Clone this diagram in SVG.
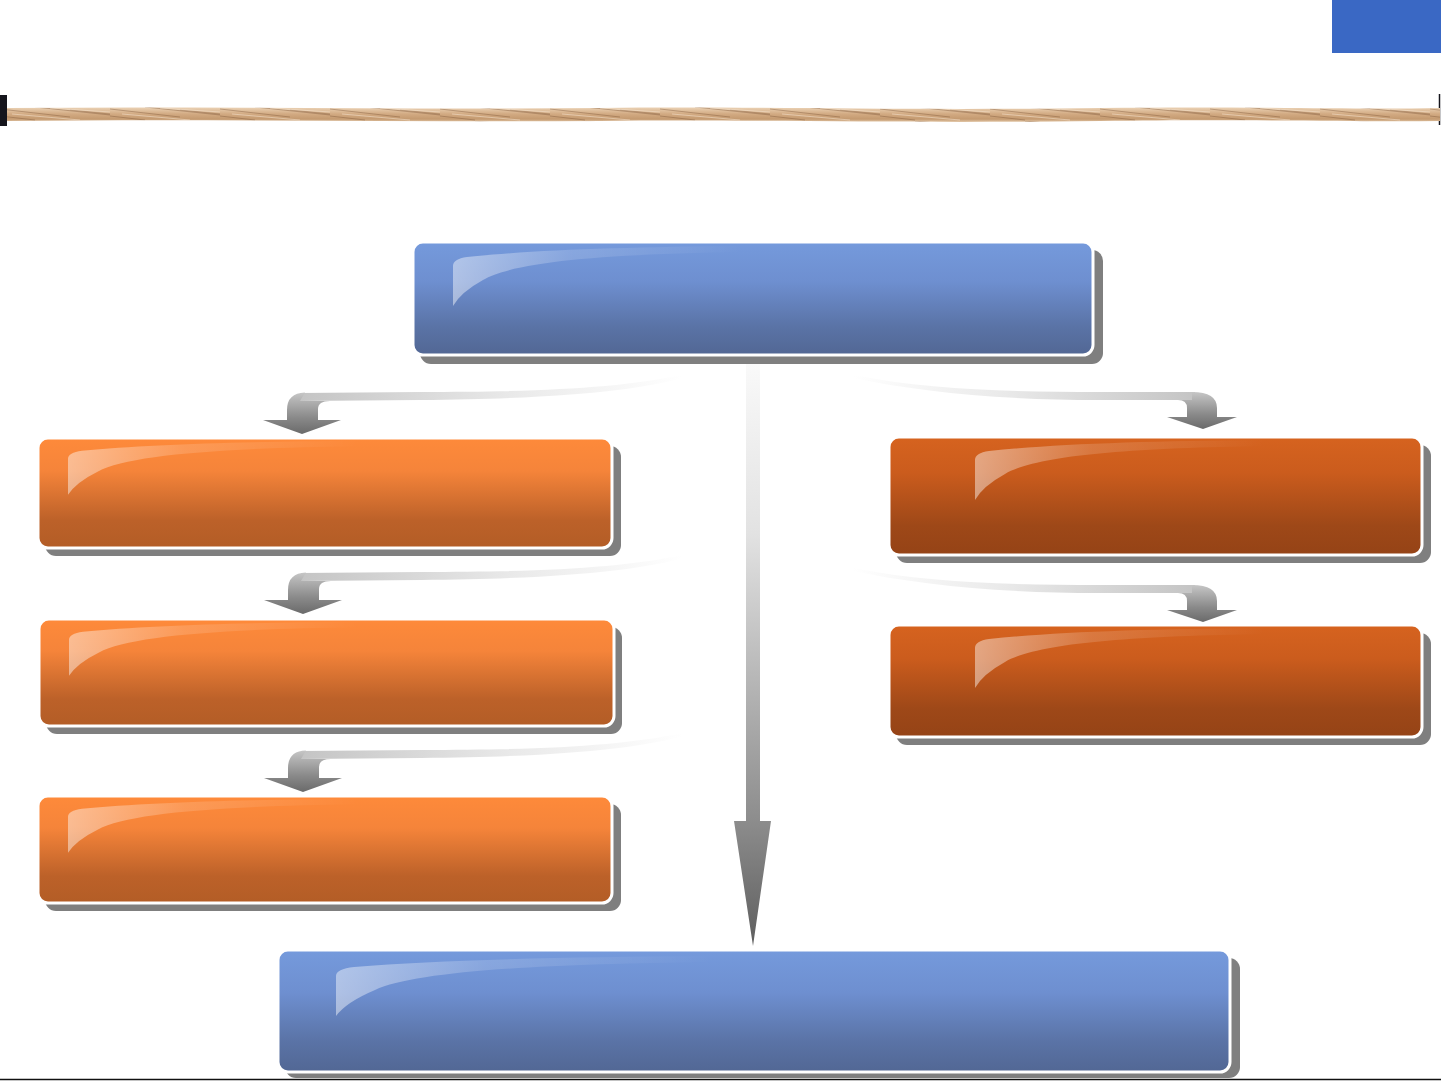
<svg xmlns="http://www.w3.org/2000/svg" width="1441" height="1081" viewBox="0 0 1441 1081">
<defs>
<linearGradient id="gBlue" x1="0" y1="0" x2="0" y2="1">
<stop offset="0" stop-color="#759ADC"/><stop offset="0.35" stop-color="#6E8FD0"/><stop offset="0.75" stop-color="#5A73A6"/><stop offset="1" stop-color="#526794"/>
</linearGradient>
<linearGradient id="gOrange" x1="0" y1="0" x2="0" y2="1">
<stop offset="0" stop-color="#FE8A3A"/><stop offset="0.3" stop-color="#F5843A"/><stop offset="0.75" stop-color="#BC6129"/><stop offset="1" stop-color="#B35D26"/>
</linearGradient>
<linearGradient id="gDark" x1="0" y1="0" x2="0" y2="1">
<stop offset="0" stop-color="#D6631F"/><stop offset="0.3" stop-color="#CB5C1D"/><stop offset="0.75" stop-color="#9E4818"/><stop offset="1" stop-color="#954316"/>
</linearGradient>
<linearGradient id="gGloss" x1="0" y1="0" x2="1" y2="0">
<stop offset="0" stop-color="#fff" stop-opacity="0.45"/><stop offset="0.4" stop-color="#fff" stop-opacity="0.15"/><stop offset="1" stop-color="#fff" stop-opacity="0"/>
</linearGradient>
<linearGradient id="gBandL" x1="1" y1="0" x2="0" y2="0">
<stop offset="0" stop-color="#fff"/><stop offset="0.45" stop-color="#e9e9e9"/><stop offset="1" stop-color="#c4c4c4"/>
</linearGradient>
<linearGradient id="gBandR" x1="0" y1="0" x2="1" y2="0">
<stop offset="0" stop-color="#fff"/><stop offset="0.45" stop-color="#e9e9e9"/><stop offset="1" stop-color="#c4c4c4"/>
</linearGradient>
<linearGradient id="gHead" x1="0" y1="0" x2="0" y2="1">
<stop offset="0" stop-color="#c6c6c6"/><stop offset="0.6" stop-color="#8a8a8a"/><stop offset="1" stop-color="#6a6a6a"/>
</linearGradient>
<linearGradient id="gCenter" gradientUnits="userSpaceOnUse" x1="0" y1="357" x2="0" y2="946">
<stop offset="0" stop-color="#fafafa"/><stop offset="0.3" stop-color="#e2e2e2"/><stop offset="0.78" stop-color="#8e8e8e"/><stop offset="1" stop-color="#5e5e5e"/>
</linearGradient>
<linearGradient id="gRope" x1="0" y1="0" x2="0" y2="1">
<stop offset="0" stop-color="#EBD2B5"/><stop offset="0.45" stop-color="#D2AA82"/><stop offset="0.8" stop-color="#C49A70"/><stop offset="1" stop-color="#E2C6A6"/>
</linearGradient>
<pattern id="pStrand" patternUnits="userSpaceOnUse" width="110" height="14" y="107">
<path d="M0,2 L70,10 M35,0 L110,8 M-35,5 L35,13 M70,3 L110,7" stroke="#7A5334" stroke-width="1.2" stroke-opacity="0.4" fill="none"/>
<path d="M12,7 L80,13 M50,1 L110,5" stroke="#F5E4CF" stroke-width="1" stroke-opacity="0.55" fill="none"/>
</pattern>
<path id="gloss" d="M0,52 L0,12 Q0,5 14,3 C80,-4 170,-7 290,-8 L290,-2 C150,0 60,8 30,26 Q8,38 0,52 Z"/>
</defs>
<style>
.shadow{fill:#7f7f7f}
.box{stroke:#fff;stroke-width:3}
.blue{fill:url(#gBlue)}
.orange{fill:url(#gOrange)}
.dark{fill:url(#gDark)}
.gl{fill:url(#gGloss)}
</style>
<rect width="1441" height="1081" fill="#fff"/>
<g id="header">
<rect x="1332" y="0" width="109" height="53" fill="#3A68C4"/>
<rect x="0" y="95" width="7" height="31" fill="#15151c"/>
<line x1="1439.5" y1="94" x2="1439.5" y2="125" stroke="#15151c" stroke-width="1.5"/>
<path d="M7,108 C200,106 400,110 600,108 C750,106 900,111 1100,108 C1250,106 1350,110 1440,108 L1440,121 C1350,122 1250,119 1100,121 C900,124 750,119 600,121 C400,122 200,119 7,121 Z" fill="url(#gRope)"/>
<path d="M7,108 C200,106 400,110 600,108 C750,106 900,111 1100,108 C1250,106 1350,110 1440,108 L1440,121 C1350,122 1250,119 1100,121 C900,124 750,119 600,121 C400,122 200,119 7,121 Z" fill="url(#pStrand)"/>
</g>
<g id="connectors">
<g id="arrow-center">
<path d="M746,357 L760,357 L760,821 L771,821 L753,946 L734,821 L746,821 Z" fill="url(#gCenter)"/>
</g>
<g id="arrow-left-1">
<path d="M682,375 C620,388 540,392 420,392 L300,393 L300,401 L420,400 C560,399 640,390 682,378 Z" fill="url(#gBandL)"/>
<path d="M305,392.5 Q287,393 287,410 L287,420 L263,420 L302,434 L341,420 L318,420 L318,409 Q318,401 330,401 L300,401 Z" fill="url(#gHead)"/>
</g>
<g id="arrow-left-2" transform="translate(1,180)">
<path d="M682,375 C620,388 540,392 420,392 L300,393 L300,401 L420,400 C560,399 640,390 682,378 Z" fill="url(#gBandL)"/>
<path d="M305,392.5 Q287,393 287,410 L287,420 L263,420 L302,434 L341,420 L318,420 L318,409 Q318,401 330,401 L300,401 Z" fill="url(#gHead)"/>
</g>
<g id="arrow-left-3" transform="translate(1,358)">
<path d="M682,375 C620,388 540,392 420,392 L300,393 L300,401 L420,400 C560,399 640,390 682,378 Z" fill="url(#gBandL)"/>
<path d="M305,392.5 Q287,393 287,410 L287,420 L263,420 L302,434 L341,420 L318,420 L318,409 Q318,401 330,401 L300,401 Z" fill="url(#gHead)"/>
</g>
<g id="arrow-right-1">
<path d="M853,375 C930,390 1010,392 1100,392 L1195,392 L1195,400 L1100,400 C1000,400 920,392 853,378 Z" fill="url(#gBandR)"/>
<path d="M1192,392 Q1217,392 1217,408 L1217,417 L1237,417 L1203,429 L1167,417 L1187,417 L1187,408 Q1187,400 1178,400 L1192,400 Z" fill="url(#gHead)"/>
</g>
<g id="arrow-right-2" transform="translate(0,193)">
<path d="M853,375 C930,390 1010,392 1100,392 L1195,392 L1195,400 L1100,400 C1000,400 920,392 853,378 Z" fill="url(#gBandR)"/>
<path d="M1192,392 Q1217,392 1217,408 L1217,417 L1237,417 L1203,429 L1167,417 L1187,417 L1187,408 Q1187,400 1178,400 L1192,400 Z" fill="url(#gHead)"/>
</g>
</g>
<g id="node-top">
<rect class="shadow" x="420" y="250" width="683" height="114" rx="11"/>
<rect class="box blue" x="413" y="242" width="680" height="113" rx="10"/>
<use href="#gloss" class="gl" transform="translate(453,254)"/>
</g>
<g id="node-left-1">
<rect class="shadow" x="45" y="446" width="576" height="110" rx="11"/>
<rect class="box orange" x="38" y="438" width="574" height="110" rx="10"/>
<use href="#gloss" class="gl" transform="translate(68,448) scale(1,0.9)"/>
</g>
<g id="node-left-2">
<rect class="shadow" x="46" y="627" width="576" height="107" rx="11"/>
<rect class="box orange" x="39" y="619" width="575" height="107" rx="10"/>
<use href="#gloss" class="gl" transform="translate(69,629) scale(1,0.9)"/>
</g>
<g id="node-left-3">
<rect class="shadow" x="45" y="804" width="576" height="107" rx="11"/>
<rect class="box orange" x="38" y="796" width="574" height="107" rx="10"/>
<use href="#gloss" class="gl" transform="translate(68,806) scale(1,0.9)"/>
</g>
<g id="node-right-1">
<rect class="shadow" x="896" y="445" width="535" height="118" rx="11"/>
<rect class="box dark" x="889" y="437" width="533" height="118" rx="10"/>
<use href="#gloss" class="gl" transform="translate(975,448)"/>
</g>
<g id="node-right-2">
<rect class="shadow" x="896" y="633" width="535" height="112" rx="11"/>
<rect class="box dark" x="889" y="625" width="533" height="112" rx="10"/>
<use href="#gloss" class="gl" transform="translate(975,636)"/>
</g>
<g id="node-bottom">
<rect class="shadow" x="285" y="958" width="955" height="120" rx="11"/>
<rect class="box blue" x="278" y="950" width="952" height="122" rx="10"/>
<use href="#gloss" class="gl" transform="translate(336,964) scale(1.3,1)"/>
</g>
<line x1="0" y1="1079.5" x2="1441" y2="1079.5" stroke="#111" stroke-width="1.5"/>
</svg>
